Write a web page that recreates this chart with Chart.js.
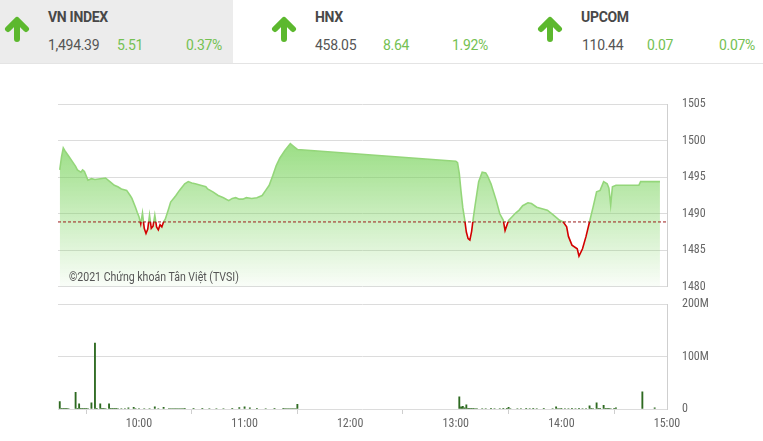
<!DOCTYPE html>
<html><head><meta charset="utf-8">
<script src="https://cdn.jsdelivr.net/npm/chart.js@4"></script>
<style>
html,body{margin:0;padding:0;background:#fff;width:763px;height:441px;overflow:hidden;font-family:Roboto,sans-serif;}
#hdr{position:absolute;left:0;top:0;width:763px;height:63px;border-bottom:1px solid #e4e4e4;}
#sel{position:absolute;left:0;top:0;width:233px;height:63px;background:#ececec;}
.t{position:absolute;white-space:nowrap;letter-spacing:-0.3px;}
.ttl{top:8px;font-size:14px;font-weight:700;color:#484848;line-height:18px;}
.val{top:36px;font-size:14px;color:#555;line-height:18px;}
.chg{top:36px;font-size:14px;color:#74c152;line-height:18px;}
svg.ar{position:absolute;top:14px;width:26px;height:28px;}
canvas{position:absolute;left:0;}
#wm{position:absolute;left:69px;top:270px;font-size:12px;color:#555;line-height:15px;white-space:nowrap;transform:scaleX(0.88);transform-origin:0 0;}
</style></head><body>
<div id="hdr">
 <div id="sel"></div>
 <svg class="ar" style="left:4px" viewBox="0 0 26 28"><path d="M13 25 V7 M4 15 L13 6 L22 15" stroke="#5cb82e" stroke-width="6" fill="none" stroke-linecap="round" stroke-linejoin="round"/></svg>
 <div class="t ttl" style="left:48px">VN INDEX</div>
 <div class="t val" style="left:48px">1,494.39</div>
 <div class="t chg" style="left:117px">5.51</div>
 <div class="t chg" style="left:186px">0.37%</div>
 <svg class="ar" style="left:271px" viewBox="0 0 26 28"><path d="M13 25 V7 M4 15 L13 6 L22 15" stroke="#5cb82e" stroke-width="6" fill="none" stroke-linecap="round" stroke-linejoin="round"/></svg>
 <div class="t ttl" style="left:315px">HNX</div>
 <div class="t val" style="left:315px">458.05</div>
 <div class="t chg" style="left:383px">8.64</div>
 <div class="t chg" style="left:452px">1.92%</div>
 <svg class="ar" style="left:537px" viewBox="0 0 26 28"><path d="M13 25 V7 M4 15 L13 6 L22 15" stroke="#5cb82e" stroke-width="6" fill="none" stroke-linecap="round" stroke-linejoin="round"/></svg>
 <div class="t ttl" style="left:581px">UPCOM</div>
 <div class="t val" style="left:582px">110.44</div>
 <div class="t chg" style="left:647px">0.07</div>
 <div class="t chg" style="left:719px">0.07%</div>
</div>
<canvas id="c1" width="763" height="227" style="top:82px"></canvas>
<canvas id="c2" width="763" height="160" style="top:282px"></canvas>
<div id="wm">©2021 Chứng khoán Tân Việt (TVSI)</div>
<script>
// ---- data ----
const idxTimes = ["09:15","09:16","09:17","09:18","09:20","09:22","09:24","09:25","09:27","09:28","09:29","09:31","09:33","09:35","09:38","09:41","09:44","09:46","09:48","09:50","09:53","09:55","09:56","09:58","09:59",
"10:00","10:01","10:02","10:03","10:04","10:05","10:06","10:07","10:08","10:09","10:10","10:11","10:12","10:13","10:14","10:15","10:17","10:18","10:20","10:21","10:23","10:26","10:28","10:30","10:32","10:35","10:38","10:39","10:42","10:45","10:48","10:51","10:53","10:55","10:57","10:59",
"11:01","11:04","11:07","11:10","11:12","11:14","11:16","11:18","11:20","11:23","11:26","11:28","11:30",
"13:00","13:01","13:02","13:03","13:04","13:05","13:06","13:07","13:08","13:09","13:10","13:11","13:12","13:13","13:15","13:17","13:18","13:20","13:23","13:25","13:27","13:28","13:29","13:30","13:32","13:34","13:36","13:38","13:41","13:43","13:46","13:49","13:52","13:55","13:58","13:59",
"14:01","14:03","14:04","14:06","14:09","14:10","14:12","14:14","14:16","14:18","14:20","14:22","14:24","14:26","14:27","14:28","14:29","14:31","14:44","14:45","14:56"];
const idxValues = [1496.0,1497.8,1499.0,1498.6,1497.9,1497.2,1496.5,1496.0,1495.7,1496.0,1495.8,1494.6,1494.8,1494.7,1494.8,1494.9,1494.3,1493.9,1493.7,1493.4,1493.2,1492.5,1492.1,1490.9,1490.2,
1489.6,1488.6,1490.1,1488.0,1487.3,1487.9,1489.8,1488.0,1488.3,1489.8,1488.2,1487.8,1488.5,1488.2,1488.9,1489.3,1490.8,1491.6,1492.2,1492.5,1493.2,1494.1,1494.4,1494.2,1494.1,1493.9,1493.7,1493.4,1493.0,1492.5,1492.2,1491.8,1492.1,1492.2,1492.0,1492.0,
1492.2,1492.1,1492.2,1492.5,1493.2,1493.9,1495.2,1496.6,1497.6,1498.7,1499.6,1499.2,1498.8,
1497.2,1497.0,1495.5,1493.0,1490.8,1489.3,1487.5,1486.6,1486.4,1487.6,1489.5,1491.2,1492.8,1494.4,1495.7,1495.6,1495.2,1494.1,1491.8,1490.0,1489.1,1487.7,1488.4,1489.1,1489.6,1490.1,1490.5,1491.1,1491.5,1491.4,1490.9,1490.7,1490.5,1489.9,1489.3,1489.1,
1488.9,1488.2,1486.9,1485.7,1485.2,1484.2,1485.2,1486.9,1488.9,1490.9,1493.0,1493.2,1494.4,1494.1,1493.5,1491.2,1493.7,1493.9,1493.9,1494.4,1494.4];
const refValue = 1488.88;

const volTimes = ["09:15","09:16","09:17","09:18","09:19","09:20","09:24","09:25","09:26","09:27","09:28","09:29","09:30","09:31","09:33","09:35","09:36","09:38","09:39","09:40","09:41","09:43","09:44","09:45","09:46","09:47","09:48","09:50","09:52","09:54","09:57","09:58","10:00","10:03","10:06","10:09","10:11","10:14","10:17","10:18","10:19","10:20","10:21","10:22","10:23","10:24","10:25","10:26","10:31","10:36","10:40","10:44","10:48","10:53","10:57","11:00","11:03","11:07","11:12","11:17","11:22","11:23","11:24","11:25","11:26","11:27","11:28","11:29","11:30",
"13:02","13:03","13:04","13:05","13:06","13:07","13:08","13:09","13:10","13:11","13:12","13:15","13:17","13:20","13:22","13:25","13:27","13:29","13:30","13:31","13:35","13:37","13:40","13:42","13:44","13:46","13:50","13:55","13:57","13:58","13:59","14:00","14:02","14:04","14:06","14:08","14:10","14:12","14:14","14:16","14:17","14:18","14:20","14:21","14:22","14:24","14:25","14:26","14:27","14:28","14:30","14:31","14:46","14:53"];
const volValues = [14,1.5,1.5,1.2,1.2,1.0,32,1.5,10,1.5,1.5,1.2,1.2,1.0,12,126,1.5,10,1.2,1.2,1.0,10,1.5,1.5,1.2,1.2,1.0,1.0,1.0,2,3,1.0,1.0,1.0,1.0,4,1.0,3,1.0,1.0,1.0,1.0,1.0,1.0,1.0,1.0,1.0,1.5,1.5,1.5,1.0,1.0,1.0,1.5,2.5,4,2,1.5,1.0,1.5,1.5,1.0,1.0,1.0,1.0,1.0,1.0,1.0,9,
23,4,5,2,8,1.5,1.5,1.2,1.2,1,1,1,1,1.5,1,1,1.5,1.5,3,1,1,1,1.2,1,1.2,1,1.2,1,4,1,1,1.5,1,1,1.5,1,1.5,1,1,6,1.5,1,12,1.5,1.5,7,1.5,1.5,1.2,1,1.2,2,33,2];

const priceTicks = [1480,1485,1490,1495,1500,1505];
const volTicks = [0,100,200];
const volTickLabels = ["0","100M","200M"];
const timeTicks = ["10:00","11:00","12:00","13:00","14:00","15:00"];
const axisStart = "09:14", axisEnd = "15:00";

// ---- helpers ----
const toMin = s => { const p = s.split(":"); return (+p[0]) * 60 + (+p[1]); };
const fmt = m => Math.floor(m / 60) + ":" + String(m % 60).padStart(2, "0");
const xMin = toMin(axisStart), xMax = toMin(axisEnd);
const tickFont = {family: "'Roboto Condensed','Liberation Sans Narrow',Roboto", size: 12};
const gridCol = "#dcdcdc";

function fillGrad(c) {
  const {ctx, chartArea} = c.chart;
  if (!chartArea) return "rgba(120,210,90,0.5)";
  const g = ctx.createLinearGradient(0, chartArea.top, 0, chartArea.bottom);
  g.addColorStop(0, "rgba(118,210,88,0.92)");
  g.addColorStop(1, "rgba(118,210,88,0.04)");
  return g;
}
function lineGrad(c) {
  const {ctx, chartArea, scales} = c.chart;
  if (!chartArea) return "#90d474";
  const y = scales.y.getPixelForValue(refValue);
  const f = Math.min(1, Math.max(0, (y - chartArea.top) / (chartArea.bottom - chartArea.top)));
  const g = ctx.createLinearGradient(0, chartArea.top, 0, chartArea.bottom);
  g.addColorStop(0, "#94d67a"); g.addColorStop(f, "#94d67a");
  g.addColorStop(f, "#d20000"); g.addColorStop(1, "#d20000");
  return g;
}

new Chart(document.getElementById("c1"), {
  type: "line",
  data: {datasets: [
    {data: [{x: xMin, y: refValue}, {x: xMax, y: refValue}], borderColor: "#9b1c1c", borderDash: [3, 2], borderWidth: 1, pointRadius: 0, fill: false, order: 0},
    {data: idxTimes.map((t, i) => ({x: toMin(t), y: idxValues[i]})), borderColor: lineGrad, backgroundColor: fillGrad, fill: "start", borderWidth: 1.6, pointRadius: 0, tension: 0, order: 1}
  ]},
  options: {
    responsive: false, animation: false, events: [],
    layout: {padding: {left: 58, top: 13, bottom: 10, right: 0}},
    plugins: {legend: {display: false}, tooltip: {enabled: false}},
    scales: {
      x: {type: "linear", display: false, min: xMin, max: xMax},
      y: {position: "right", min: 1480, max: 1505,
        afterBuildTicks: s => { s.ticks = priceTicks.map(v => ({value: v})); },
        afterFit: s => { s.width = 96; },
        grid: {color: gridCol, drawTicks: false},
        border: {display: true, color: "#cfcfcf"},
        ticks: {padding: 15, color: "#666", font: tickFont, callback: v => String(v)}}
    }
  }
});

new Chart(document.getElementById("c2"), {
  type: "bar",
  data: {datasets: [{data: volTimes.map((t, i) => ({x: toMin(t), y: volValues[i] * 1e6})), backgroundColor: "#2e6a21", barThickness: 1.2}]},
  options: {
    responsive: false, animation: false, events: [],
    layout: {padding: {left: 58, top: 6, bottom: 0, right: 0}},
    plugins: {legend: {display: false}, tooltip: {enabled: false}},
    scales: {
      x: {type: "linear", min: xMin, max: xMax, offset: false,
        afterBuildTicks: s => { s.ticks = timeTicks.map(t => ({value: toMin(t)})); },
        afterFit: s => { s.height = 33; },
        grid: {drawOnChartArea: false, drawTicks: true, tickLength: 5, color: "#cfcfcf"},
        border: {display: false},
        ticks: {padding: 3, color: "#666", font: tickFont, maxRotation: 0, autoSkip: false, callback: v => fmt(v)}},
      y: {position: "right", min: 0, max: 200e6,
        afterBuildTicks: s => { s.ticks = volTicks.map(v => ({value: v * 1e6})); },
        afterFit: s => { s.width = 96; },
        grid: {color: gridCol, drawTicks: false},
        border: {display: true, color: "#cfcfcf"},
        ticks: {padding: 15, color: "#666", font: tickFont, callback: v => volTickLabels[volTicks.indexOf(v / 1e6)]}}
    }
  }
});
</script>
</body></html>
